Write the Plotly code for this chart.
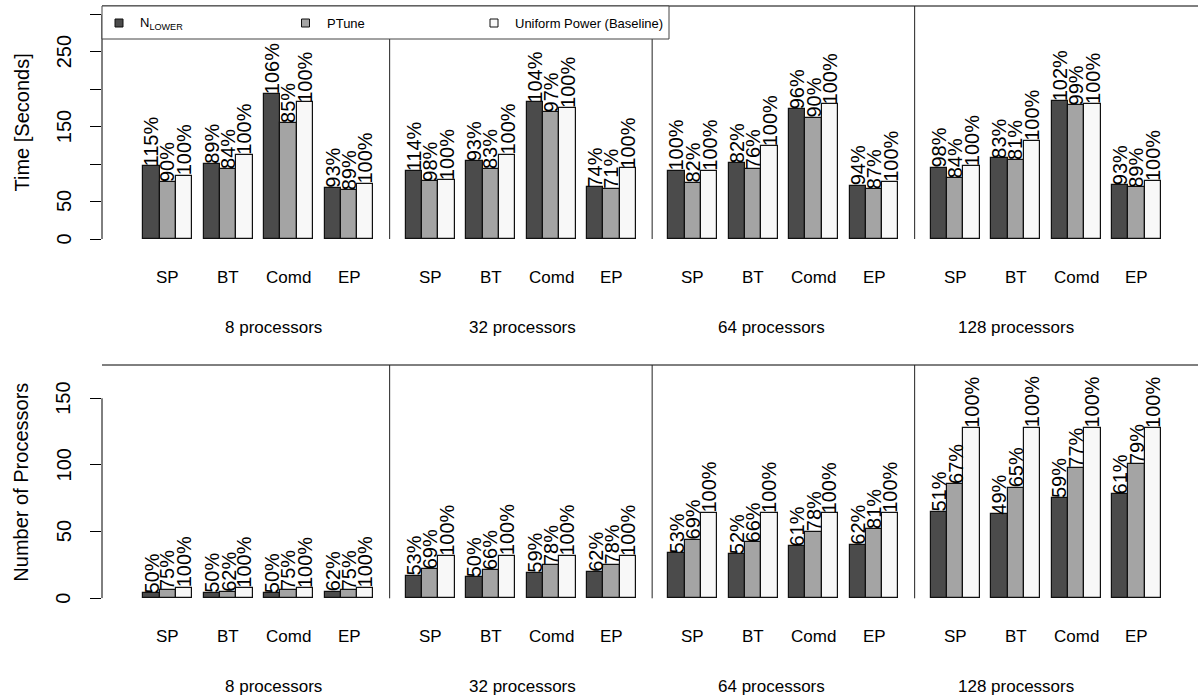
import plotly.graph_objects as go

# ---------------- data ----------------
panels = ["8 processors", "32 processors", "64 processors", "128 processors"]
benchmarks = ["SP", "BT", "Comd", "EP"]
series_names = ["N<sub>LOWER</sub>", "PTune", "Uniform Power (Baseline)"]

# Time [Seconds], ordered panel by panel (SP, BT, Comd, EP)
time_nlower = [97.5, 100.2, 193.2, 68.1, 90.4, 104.2, 182.5, 69.0,
               91.3, 101.1, 173.6, 71.2, 95.3, 107.7, 184.3, 72.1]
time_ptune = [75.7, 93.9, 154.5, 65.0, 77.0, 93.1, 169.2, 66.3,
              75.2, 93.5, 161.6, 66.3, 81.5, 105.1, 178.5, 69.0]
time_uniform = [84.6, 112.6, 182.5, 73.9, 78.8, 112.2, 175.0, 94.4,
                90.8, 123.8, 180.3, 76.1, 97.5, 130.5, 180.3, 77.9]
time_pct_nlower = ["115%", "89%", "106%", "93%", "114%", "93%", "104%", "74%",
                   "100%", "82%", "96%", "94%", "98%", "83%", "102%", "93%"]
time_pct_ptune = ["90%", "84%", "85%", "89%", "98%", "83%", "97%", "71%",
                  "82%", "76%", "90%", "87%", "84%", "81%", "99%", "89%"]
time_pct_uniform = ["100%", "100%", "100%", "100%", "100%", "100%", "100%", "100%",
                    "100%", "100%", "100%", "100%", "100%", "100%", "100%", "100%"]

# Number of processors
procs_nlower = [4, 4, 4, 5, 17, 16, 19, 20, 34, 33, 39, 40, 65, 63, 75, 78]
procs_ptune = [6, 5, 6, 6, 22, 21, 25, 25, 44, 42, 50, 52, 86, 83, 98, 101]
procs_uniform = [8, 8, 8, 8, 32, 32, 32, 32, 64, 64, 64, 64, 128, 128, 128, 128]
procs_pct_nlower = ["50%", "50%", "50%", "62%", "53%", "50%", "59%", "62%",
                    "53%", "52%", "61%", "62%", "51%", "49%", "59%", "61%"]
procs_pct_ptune = ["75%", "62%", "75%", "75%", "69%", "66%", "78%", "78%",
                   "69%", "66%", "78%", "81%", "67%", "65%", "77%", "79%"]
procs_pct_uniform = ["100%", "100%", "100%", "100%", "100%", "100%", "100%", "100%",
                     "100%", "100%", "100%", "100%", "100%", "100%", "100%", "100%"]

top_ticks = [0, 50, 100, 150, 200, 250, 300]
top_labels = [0, 50, 150, 250]
bot_ticks = [0, 50, 100, 150]
bot_labels = [0, 50, 100, 150]

# ---------------- styling / layout constants ----------------
W, H = 1198, 698
L, T, B = 102, 6, 99
PW = W - L
PH = H - T - B
FIRST = 41.3          # offset of first bar from plot left (px)
PANEL_STEP = 262.5
GROUP_STEP = 60.4
BAR_W = 16.33
colors = ["#4b4b4b", "#a4a4a4", "#f8f8f8"]
FONT = "Liberation Sans, Arial, Helvetica, sans-serif"
label_px = [273, 522, 771, 1016]   # centres of panel captions (px from page left)
legend_sym_px = [115, 301.5, 490]   # left edge of legend squares (px from page left)
legend_txt_px = [137.5, 325, 512.5]
ytick_label_px = 63.5
ytitle_px = 21

top_bottom_px, top_top_px = 239, 6
bot_bottom_px, bot_top_px = 598.3, 365
top_scale = 37.43 / 50      # px per second
bot_scale = 66.67 / 50      # px per processor

def pfrac(ypx):
    return min(1.0, max(0.0, (H - B - ypx) / PH))

def xfrac(xpx):
    return (xpx - L) / PW

top_dom = [pfrac(top_bottom_px), pfrac(top_top_px)]
bot_dom = [pfrac(bot_bottom_px), pfrac(bot_top_px)]
top_range = [0, (top_bottom_px - top_top_px) / top_scale]
bot_range = [0, (bot_bottom_px - bot_top_px) / bot_scale]

n = len(time_nlower)
def bar_x(i, b):
    p, g = divmod(i, 4)
    return FIRST + p * PANEL_STEP + g * GROUP_STEP + (b + 0.5) * BAR_W

fig = go.Figure()

top_vals = [time_nlower, time_ptune, time_uniform]
top_pcts = [time_pct_nlower, time_pct_ptune, time_pct_uniform]
bot_vals = [procs_nlower, procs_ptune, procs_uniform]
bot_pcts = [procs_pct_nlower, procs_pct_ptune, procs_pct_uniform]

annotations = []
for b in range(3):
    xs = [bar_x(i, b) for i in range(n)]
    for vals, pcts, xa, ya in [(top_vals[b], top_pcts[b], "x", "y"),
                               (bot_vals[b], bot_pcts[b], "x2", "y2")]:
        fig.add_trace(go.Bar(
            x=xs, y=vals, width=BAR_W, xaxis=xa, yaxis=ya, name=series_names[b],
            marker=dict(color=colors[b], line=dict(color="#111111", width=1.2)),
            showlegend=False, hoverinfo="y"))
        for x, v, t in zip(xs, vals, pcts):
            annotations.append(dict(
                x=x, y=v, xref=xa, yref=ya, text=t, textangle=-90,
                showarrow=False, xanchor="center", yanchor="bottom",
                borderpad=0, yshift=-1,
                font=dict(size=20, color="black", family=FONT)))

# y tick labels (rotated, as in the reference)
for labels, ya in [(top_labels, "y"), (bot_labels, "y2")]:
    for v in labels:
        annotations.append(dict(
            x=xfrac(ytick_label_px), y=v, xref="paper", yref=ya, text=str(v),
            textangle=-90, showarrow=False, xanchor="center", yanchor="middle",
            borderpad=0, font=dict(size=20, color="black", family=FONT)))

# benchmark and panel captions
for xa, ya in [("x", "y domain"), ("x2", "y2 domain")]:
    for i in range(n):
        g = i % 4
        annotations.append(dict(
            x=bar_x(i, 1), y=0, xref=xa, yref=ya, yshift=-38.5,
            text=benchmarks[g], showarrow=False, xanchor="center", yanchor="middle",
            font=dict(size=17, color="black", family=FONT)))
    for p in range(4):
        annotations.append(dict(
            x=label_px[p] - L, y=0, xref=xa, yref=ya, yshift=-88,
            text=panels[p], showarrow=False, xanchor="center", yanchor="middle",
            font=dict(size=17, color="black", family=FONT)))

# y titles
annotations.append(dict(x=xfrac(ytitle_px), y=(top_dom[0] + top_dom[1]) / 2, xref="paper", yref="paper",
                        text="Time [Seconds]", textangle=-90, showarrow=False,
                        xanchor="center", yanchor="middle",
                        font=dict(size=20, color="black", family=FONT)))
annotations.append(dict(x=xfrac(ytitle_px), y=(bot_dom[0] + bot_dom[1]) / 2, xref="paper", yref="paper",
                        text="Number of Processors", textangle=-90, showarrow=False,
                        xanchor="center", yanchor="middle",
                        font=dict(size=20, color="black", family=FONT)))

shapes = []
# panel top lines
for ya in ["y domain", "y2 domain"]:
    shapes.append(dict(type="line", xref="paper", yref=ya, x0=0, x1=1, y0=1, y1=1,
                       line=dict(color="black", width=1)))
# separators (midway between last bar of one panel and first bar of the next)
for p in range(3):
    last_end = FIRST + p * PANEL_STEP + 3 * GROUP_STEP + 3 * BAR_W
    next_start = FIRST + (p + 1) * PANEL_STEP
    xs = (last_end + next_start) / 2
    for xa, ya in [("x", "y domain"), ("x2", "y2 domain")]:
        shapes.append(dict(type="line", xref=xa, yref=ya, x0=xs, x1=xs, y0=0, y1=1,
                           line=dict(color="#222222", width=1)))
# y axis lines
shapes.append(dict(type="line", xref="paper", yref="y", x0=0, x1=0, y0=0, y1=300,
                   line=dict(color="black", width=1)))
shapes.append(dict(type="line", xref="paper", yref="y2", x0=0, x1=0, y0=0, y1=150,
                   line=dict(color="black", width=1)))
# legend box
shapes.append(dict(type="rect", xref="paper", yref="paper", x0=0, x1=xfrac(669),
                   y0=pfrac(39), y1=pfrac(6), fillcolor="white",
                   line=dict(color="#444444", width=1), layer="above"))
# legend keys
for b in range(3):
    shapes.append(dict(type="rect", xref="paper", yref="paper",
                       x0=xfrac(legend_sym_px[b]), x1=xfrac(legend_sym_px[b] + 8),
                       y0=pfrac(27), y1=pfrac(19), fillcolor=colors[b],
                       line=dict(color="#111111", width=1), layer="above"))
    annotations.append(dict(x=xfrac(legend_txt_px[b]), y=pfrac(23), xref="paper", yref="paper",
                            text=series_names[b], showarrow=False, xanchor="left",
                            yanchor="middle", font=dict(size=13, color="black", family=FONT)))

yax_common = dict(ticks="outside", ticklen=11, tickwidth=1, tickcolor="black",
                  showticklabels=False, showgrid=False, zeroline=False, showline=False)

fig.update_layout(
    width=W, height=H,
    margin=dict(l=L, r=0, t=T, b=B, autoexpand=False),
    paper_bgcolor="white", plot_bgcolor="white",
    barmode="overlay", bargap=0, showlegend=False,
    font=dict(family=FONT, color="black"),
    xaxis=dict(domain=[0, 1], range=[0, PW], anchor="y", visible=False),
    xaxis2=dict(domain=[0, 1], range=[0, PW], anchor="y2", visible=False, matches="x"),
    yaxis=dict(domain=top_dom, range=top_range, anchor="x",
               tickvals=top_ticks, **yax_common),
    yaxis2=dict(domain=bot_dom, range=bot_range, anchor="x2",
                tickvals=bot_ticks, **yax_common),
    annotations=annotations, shapes=shapes,
)

fig.write_html("out.html")
